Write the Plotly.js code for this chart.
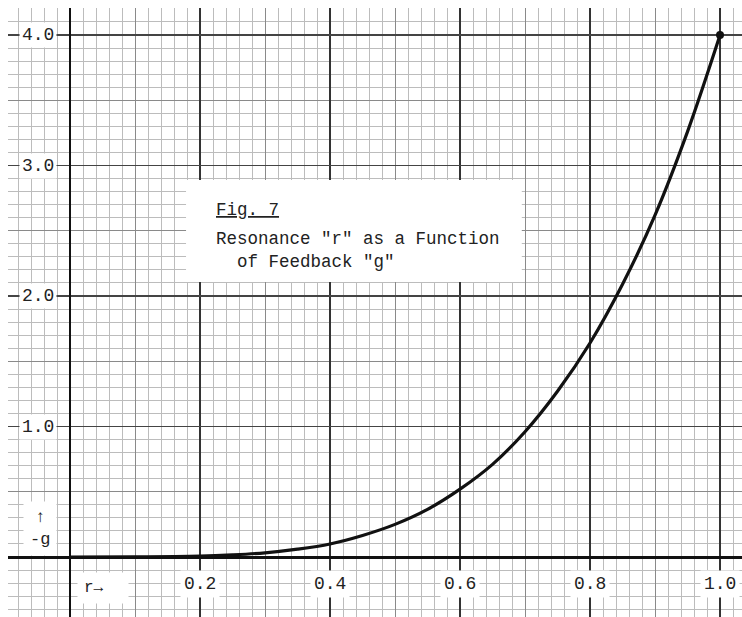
<!DOCTYPE html>
<html>
<head>
<meta charset="utf-8">
<script src="https://cdn.plot.ly/plotly-3.0.1.min.js"></script>
<style>
  html, body { margin: 0; padding: 0; background: #fff; }
  #plot { width: 742px; height: 617px; }
</style>
</head>
<body>
<div id="plot"></div>
<script>
// resonance r and feedback -g
const r = [0, 0.1, 0.2, 0.25, 0.3, 0.35, 0.4, 0.45, 0.5, 0.55, 0.6, 0.65, 0.7, 0.75, 0.8, 0.85, 0.9, 0.95, 1.0];
const negG = [0, 0.0004, 0.006, 0.016, 0.032, 0.06, 0.10, 0.165, 0.25, 0.365, 0.52, 0.71, 0.96, 1.27, 1.64, 2.09, 2.62, 3.26, 4.0];

const xTickVals = [0.2, 0.4, 0.6, 0.8, 1.0];
const xTickText = ['0.2', '0.4', '0.6', '0.8', '1.0'];
const yTickVals = [1.0, 2.0, 3.0, 4.0];
const yTickText = ['1.0', '2.0', '3.0', '4.0'];

const mono = 'Liberation Mono, DejaVu Sans Mono, monospace';

function initPlot() {
    const curve = {
        type: 'scatter',
        mode: 'lines',
        x: r,
        y: negG,
        line: { color: '#111', width: 3.2, shape: 'spline' },
        hoverinfo: 'skip'
    };
    // end point dot
    const dot = {
        type: 'scatter',
        mode: 'markers',
        x: [r[r.length - 1]],
        y: [negG[negG.length - 1]],
        marker: { color: '#111', size: 8 },
        hoverinfo: 'skip'
    };
    // dummy trace so the heavy grid axes get drawn
    const heavy = {
        type: 'scatter',
        mode: 'markers',
        x: [0.5],
        y: [2],
        xaxis: 'x2',
        yaxis: 'y2',
        marker: { opacity: 0 },
        hoverinfo: 'skip'
    };

    const annotations = [];
    xTickVals.forEach((v, i) => {
        annotations.push({
            x: v, y: -0.21, xref: 'x', yref: 'y',
            text: xTickText[i], showarrow: false,
            bgcolor: '#fff', borderpad: 3,
            font: { family: mono, size: 18, color: '#222' }
        });
    });
    yTickVals.forEach((v, i) => {
        annotations.push({
            x: -0.049, y: v, xref: 'x', yref: 'y',
            text: yTickText[i], showarrow: false,
            bgcolor: '#fff', borderpad: 2,
            font: { family: mono, size: 18, color: '#222' }
        });
    });
    annotations.push({
        x: 0.05, y: -0.235, xref: 'x', yref: 'y',
        text: 'r→  ', showarrow: false,
        bgcolor: '#fff', borderpad: 6,
        font: { family: mono, size: 16, color: '#222' }
    });
    annotations.push({
        x: -0.046, y: 0.215, xref: 'x', yref: 'y',
        text: '↑<br>-g', showarrow: false,
        bgcolor: '#fff', borderpad: 6,
        font: { family: mono, size: 17, color: '#222' }
    });
    annotations.push({
        x: 0.221, y: 2.66, xref: 'x', yref: 'y',
        xanchor: 'left', yanchor: 'middle', align: 'left',
        text: '<u>Fig. 7</u>',
        showarrow: false,
        font: { family: mono, size: 17.5, color: '#222' }
    });
    annotations.push({
        x: 0.221, y: 2.35, xref: 'x', yref: 'y',
        xanchor: 'left', yanchor: 'middle', align: 'left',
        text: 'Resonance "r" as a Function<br>  of Feedback "g"',
        showarrow: false,
        font: { family: mono, size: 17.5, color: '#222' }
    });

    const layout = {
        width: 742,
        height: 617,
        margin: { l: 8, r: 0, t: 8, b: 0 },
        paper_bgcolor: '#fff',
        plot_bgcolor: '#fff',
        showlegend: false,
        xaxis: {
            range: [-0.0954, 1.0338],
            dtick: 0.1, tick0: 0,
            showgrid: true, gridcolor: '#8a8a8a', gridwidth: 1,
            minor: { dtick: 0.02, showgrid: true, gridcolor: '#bcbcbc', gridwidth: 1 },
            zeroline: true, zerolinecolor: '#111', zerolinewidth: 2.5,
            showticklabels: false, ticks: '', showline: false
        },
        yaxis: {
            range: [-0.4598, 4.207],
            dtick: 0.5, tick0: 0,
            showgrid: true, gridcolor: '#8a8a8a', gridwidth: 1,
            minor: { dtick: 0.1, showgrid: true, gridcolor: '#bcbcbc', gridwidth: 1 },
            zeroline: true, zerolinecolor: '#111', zerolinewidth: 3,
            showticklabels: false, ticks: '', showline: false
        },
        xaxis2: {
            overlaying: 'x', matches: 'x',
            dtick: 0.2, tick0: 0,
            showgrid: true, gridcolor: '#333', gridwidth: 2,
            zeroline: false, showticklabels: false, ticks: ''
        },
        yaxis2: {
            overlaying: 'y', matches: 'y',
            dtick: 1, tick0: 0,
            showgrid: true, gridcolor: '#444', gridwidth: 1.6,
            zeroline: false, showticklabels: false, ticks: ''
        },
        // white label card behind the figure caption
        shapes: [{
            type: 'rect', xref: 'x', yref: 'y', layer: 'above',
            x0: 0.1785, x1: 0.695, y0: 2.107, y1: 2.889,
            fillcolor: '#fff', line: { width: 0 }
        }],
        annotations: annotations
    };

    Plotly.newPlot('plot', [heavy, curve, dot], layout, { displayModeBar: false, staticPlot: true });
}

document.addEventListener('DOMContentLoaded', initPlot);
</script>
</body>
</html>
